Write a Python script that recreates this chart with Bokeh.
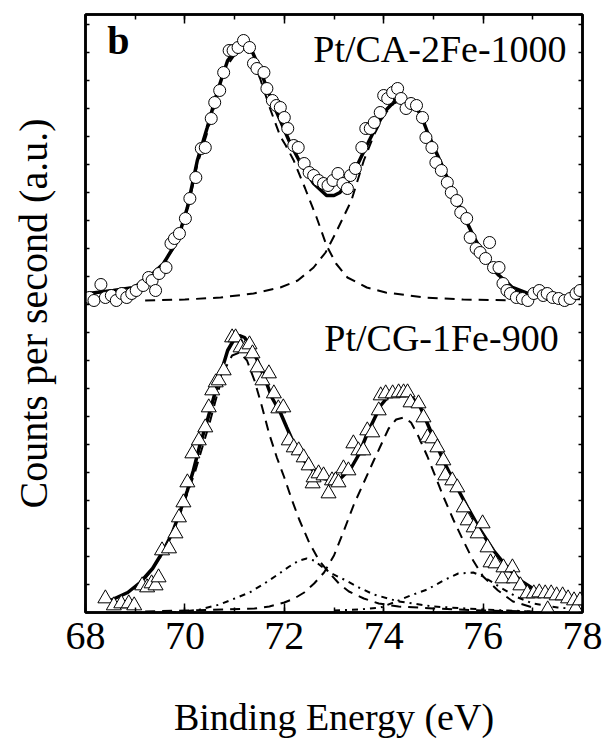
from bokeh.plotting import figure
from bokeh.models import Range1d, LinearAxis, SingleIntervalTicker, Label, CustomLabelingPolicy
from bokeh.embed import file_html
from bokeh.resources import INLINE

# ---------------- data (binding energy in eV, counts in arbitrary units) ----------------
# Top panel: Pt/CA-2Fe-1000 (circles)
ev_a = [68.08, 68.17, 68.31, 68.40, 68.52, 68.62, 68.73, 68.83, 68.93, 69.02, 69.16, 69.27, 69.34, 69.41,
        69.48, 69.62, 69.72, 69.79, 69.89, 70.01, 70.10, 70.22, 70.33, 70.41, 70.53, 70.60, 70.70, 70.78,
        70.89, 70.97, 71.07, 71.18, 71.30, 71.38, 71.45, 71.59, 71.65, 71.76, 71.84, 71.92, 72.00, 72.07,
        72.19, 72.28, 72.40, 72.50, 72.59, 72.69, 72.79, 72.88, 72.98, 73.08, 73.18, 73.27, 73.33, 73.43,
        73.56, 73.64, 73.73, 73.81, 73.93, 74.00, 74.08, 74.18, 74.28, 74.35, 74.45, 74.55, 74.66, 74.78,
        74.85, 74.97, 75.05, 75.16, 75.28, 75.36, 75.47, 75.55, 75.67, 75.74, 75.86, 75.94, 76.05, 76.13,
        76.21, 76.32, 76.40, 76.48, 76.55, 76.67, 76.79, 76.90, 77.02, 77.13, 77.21, 77.29, 77.40, 77.52,
        77.64, 77.75, 77.87, 77.95]
cnt_a = [3, 0, 16, 3, 5, 0, 7, 3, 7, 10, 15, 23, 20, 10,
         27, 33, 57, 62, 67, 82, 102, 123, 152, 153, 182, 198, 210, 228,
         250, 250, 253, 260, 253, 237, 232, 228, 212, 200, 195, 193, 183, 172,
         155, 153, 137, 128, 125, 120, 117, 115, 120, 127, 117, 112, 125, 132,
         153, 172, 172, 178, 188, 205, 202, 208, 212, 202, 192, 197, 195, 183,
         163, 153, 138, 130, 118, 108, 100, 88, 82, 63, 52, 48, 42, 58,
         33, 33, 17, 10, 7, 3, 2, 0, 7, 10, 5, 7, 3, 2,
         0, 2, 7, 10]
# total fit
ev_a_fit = [68.05, 68.56, 68.97, 69.25, 69.57, 69.85, 70.05, 70.25, 70.45, 70.66, 70.86, 71.06, 71.18, 71.32,
            71.52, 71.72, 71.92, 72.12, 72.33, 72.59, 72.85, 73.0, 73.12, 73.35, 73.58, 73.81, 74.04, 74.27,
            74.5, 74.74, 74.89, 75.13, 75.36, 75.59, 75.82, 76.05, 76.28, 76.59, 76.9, 77.29, 77.95]
cnt_a_fit = [7, 10, 13, 22, 37, 60, 93, 140, 173, 210, 240, 253, 257, 253,
             230, 203, 180, 157, 137, 117, 105, 105, 108, 123, 147, 170, 190, 202,
             200, 187, 167, 140, 113, 87, 63, 43, 27, 13, 7, 3, 2]
# components (dashed)
ev_a_c1 = [69.2, 69.55, 69.85, 70.05, 70.25, 70.45, 70.65, 70.85, 71.05, 71.18, 71.32, 71.52, 71.72, 71.92,
           72.03, 72.19, 72.42, 72.65, 72.85, 73.04, 73.27, 73.66, 74.04, 74.82, 75.6, 76.8]
cnt_a_c1 = [21, 36, 58, 90, 136, 168, 205, 235, 249, 252, 246, 221, 191, 164,
            155, 140, 112, 83, 55, 37, 23, 13, 8, 3, 1, 0]
ev_a_c2 = [69.2, 70.0, 70.72, 71.38, 71.92, 72.27, 72.59, 72.83, 73.04, 73.35, 73.6, 73.8, 74.0, 74.2,
           74.35, 74.5, 74.75, 74.9, 75.15, 75.4, 75.6, 75.85, 76.05, 76.3, 76.5, 76.8]
cnt_a_c2 = [0, 1, 3, 7, 13, 20, 33, 48, 68, 100, 140, 165, 185, 197,
            200, 197, 183, 165, 137, 110, 85, 60, 42, 25, 13, 5]

# Bottom panel: Pt/CG-1Fe-900 (triangles)
ev_b = [68.40, 68.57, 68.72, 68.87, 68.98, 69.14, 69.24, 69.33, 69.41, 69.47, 69.54, 69.68, 69.81, 69.88,
        69.97, 70.05, 70.15, 70.28, 70.41, 70.48, 70.55, 70.62, 70.68, 70.78, 70.95, 71.02, 71.12, 71.22,
        71.30, 71.36, 71.46, 71.56, 71.69, 71.79, 71.88, 71.98, 72.09, 72.19, 72.29, 72.39, 72.49, 72.57,
        72.59, 72.69, 72.79, 72.89, 72.96, 73.03, 73.09, 73.19, 73.29, 73.39, 73.49, 73.59, 73.67, 73.77,
        73.90, 73.94, 74.04, 74.18, 74.30, 74.40, 74.48, 74.54, 74.70, 74.80, 74.88, 74.98, 75.08, 75.20,
        75.24, 75.38, 75.48, 75.61, 75.69, 75.81, 75.89, 75.99, 76.09, 76.15, 76.25, 76.39, 76.41, 76.59,
        76.62, 76.75, 76.89, 77.02, 77.13, 77.25, 77.30, 77.37, 77.48, 77.60, 77.71, 77.83, 77.86, 77.95]
cnt_b = [14, 7, 9, 9, 7, 27, 25, 29, 27, 35, 62, 64, 79, 95,
         110, 130, 159, 172, 185, 205, 222, 230, 232, 242, 275, 275, 265, 264,
         268, 259, 245, 232, 239, 219, 204, 205, 172, 165, 162, 155, 147, 129,
         135, 139, 137, 119, 132, 132, 130, 144, 142, 169, 162, 162, 182, 180,
         202, 217, 219, 219, 220, 220, 220, 210, 209, 195, 175, 174, 165, 152,
         137, 132, 125, 105, 92, 85, 79, 89, 65, 50, 49, 34, 45, 45,
         34, 27, 19, 19, 20, 19, 3, 19, 17, 17, 14, 12, 4, 12]
ev_b_fit = [68.5, 68.85, 69.1, 69.35, 69.57, 69.75, 69.91, 70.05, 70.17, 70.3, 70.45, 70.66, 70.86, 71.0,
            71.1, 71.2, 71.3, 71.45, 71.6, 71.75, 71.92, 72.05, 72.2, 72.4, 72.6, 72.8, 73.0, 73.15,
            73.35, 73.5, 73.67, 73.94, 74.14, 74.34, 74.54, 74.74, 74.94, 75.2, 75.4, 75.69, 75.95, 76.21,
            76.49, 76.75, 77.0, 77.4, 77.95]
cnt_b_fit = [12, 20, 30, 44, 62, 80, 102, 122, 142, 167, 192, 229, 262, 274,
             277, 275, 268, 253, 235, 215, 200, 185, 168, 152, 141, 134, 132, 135,
             145, 158, 179, 207, 219, 221, 217, 205, 182, 152, 132, 105, 82, 62,
             45, 32, 24, 17, 14]
ev_b_c1 = [69.2, 69.5, 69.75, 69.9, 70.05, 70.2, 70.35, 70.5, 70.65, 70.8, 70.95, 71.1, 71.25, 71.4,
           71.55, 71.7, 71.85, 72.0, 72.15, 72.3, 72.5, 72.7, 72.9, 73.1, 73.3, 73.6, 73.9, 74.3,
           75.0, 76.0, 77.0]
cnt_b_c1 = [34, 55, 78, 98, 119, 140, 165, 190, 218, 243, 257, 260, 252, 232,
            206, 178, 155, 135, 113, 93, 70, 52, 40, 29, 21, 14, 9, 6,
            4, 2, 1]
ev_b_c2 = [69.2, 70.0, 70.8, 71.4, 71.7, 72.0, 72.2, 72.4, 72.6, 72.8, 73.0, 73.2, 73.4, 73.6,
           73.8, 73.95, 74.1, 74.25, 74.4, 74.55, 74.7, 74.88, 75.04, 75.2, 75.4, 75.6, 75.8, 76.0,
           76.3, 76.6, 77.0]
cnt_b_c2 = [1, 2, 3, 4, 6, 10, 14, 20, 29, 40, 57, 82, 108, 130,
            152, 168, 184, 193, 195, 190, 176, 156, 136, 116, 93, 72, 52, 36,
            22, 11, 5]
ev_b_c3 = [69.7, 70.0, 70.3, 70.7, 71.0, 71.3, 71.6, 71.9, 72.1, 72.3, 72.45, 72.6, 72.75, 72.95,
           73.2, 73.5, 73.8, 74.3, 75.0, 76.0, 77.0]
cnt_b_c3 = [0, 1, 3, 8, 14, 20, 29, 39, 46, 52, 54, 52, 46, 39,
            33, 25, 18, 11, 6, 3, 1]
ev_b_c4 = [73.0, 73.5, 73.94, 74.2, 74.54, 74.88, 75.2, 75.5, 75.8, 76.0, 76.35, 76.7, 77.0, 77.5, 78.0]
cnt_b_c4 = [2, 3, 5, 10, 17, 23, 32, 39, 40, 36, 25, 15, 9, 5, 3]

top_offset = 312          # vertical stacking offset of the upper spectrum
x_ticks_major = 2
y_tick_step = 28
label_top = "Pt/CA-2Fe-1000"
label_bottom = "Pt/CG-1Fe-900"
panel_letter = "b"
x_title = "Binding Energy (eV)"
y_title = "Counts per second (a.u.)"

FONT = "Liberation Serif"

def shift(vals, off):
    return [v + off for v in vals]

def no_labels():
    return CustomLabelingPolicy(code="return new Set()")

p = figure(frame_width=497, frame_height=598, output_backend="svg", toolbar_location=None,
           x_range=Range1d(68, 78), y_range=Range1d(0, 598),
           min_border_left=85, min_border_right=20, min_border_top=14, min_border_bottom=100,
           background_fill_color="white", border_fill_color="white")
p.xgrid.visible = False
p.ygrid.visible = False
p.outline_line_color = "black"
p.outline_line_width = 2.5
p.outline_line_alpha = 1.0

xt = SingleIntervalTicker(interval=x_ticks_major, num_minor_ticks=2)
yt = SingleIntervalTicker(interval=y_tick_step, num_minor_ticks=0)

xa = p.xaxis[0]
xa.ticker = xt
xa.major_tick_in = 9
xa.major_tick_out = 0
xa.minor_tick_in = 5
xa.minor_tick_out = 0
xa.major_tick_line_width = 1.5
xa.minor_tick_line_width = 1.5
xa.axis_line_width = 2.5
xa.major_label_text_font = FONT
xa.major_label_text_font_size = "40px"
xa.major_label_text_color = "black"
xa.major_label_standoff = 10
xa.axis_label = x_title
xa.axis_label_text_font = FONT
xa.axis_label_text_font_size = "38px"
xa.axis_label_text_font_style = "normal"
xa.axis_label_text_color = "black"
xa.axis_label_standoff = 44

ya = p.yaxis[0]
ya.ticker = yt
ya.major_tick_in = 4
ya.major_tick_out = 0
ya.minor_tick_in = 0
ya.minor_tick_out = 0
ya.major_tick_line_width = 1.5
ya.axis_line_width = 2.5
ya.major_label_policy = no_labels()
ya.major_label_text_font_size = "1px"
ya.major_label_standoff = 0
ya.axis_label = y_title
ya.axis_label_text_font = FONT
ya.axis_label_text_font_size = "40px"
ya.axis_label_text_font_style = "normal"
ya.axis_label_text_color = "black"
ya.axis_label_standoff = 25

top_axis = LinearAxis(ticker=SingleIntervalTicker(interval=x_ticks_major, num_minor_ticks=2),
                      major_tick_in=9, major_tick_out=0, minor_tick_in=5, minor_tick_out=0,
                      major_tick_line_width=1.5, minor_tick_line_width=1.5, axis_line_width=2.5,
                      major_label_policy=no_labels(), major_label_text_font_size="1px",
                      major_label_standoff=0)
p.add_layout(top_axis, "above")
right_axis = LinearAxis(ticker=SingleIntervalTicker(interval=y_tick_step, num_minor_ticks=0),
                        major_tick_in=4, major_tick_out=0, minor_tick_in=0, minor_tick_out=0,
                        major_tick_line_width=1.5, axis_line_width=2.5,
                        major_label_policy=no_labels(), major_label_text_font_size="1px",
                        major_label_standoff=0)
p.add_layout(right_axis, "right")

DASH = "10 7"
DOTDASH = "6 5 2 5"

# top panel
p.line(ev_a_c1, shift(cnt_a_c1, top_offset), line_color="black", line_width=2, line_dash=DASH)
p.line(ev_a_c2, shift(cnt_a_c2, top_offset), line_color="black", line_width=2, line_dash=DASH)
p.line(ev_a_fit, shift(cnt_a_fit, top_offset), line_color="black", line_width=3.5)
p.scatter(ev_a, shift(cnt_a, top_offset), marker="circle", size=12, fill_color="white",
          line_color="black", line_width=1)

# bottom panel
p.line(ev_b_c1, cnt_b_c1, line_color="black", line_width=2, line_dash=DASH)
p.line(ev_b_c2, cnt_b_c2, line_color="black", line_width=2, line_dash=DASH)
p.line(ev_b_c3, cnt_b_c3, line_color="black", line_width=2, line_dash=DOTDASH)
p.line(ev_b_c4, cnt_b_c4, line_color="black", line_width=2, line_dash=DOTDASH)
p.line(ev_b_fit, cnt_b_fit, line_color="black", line_width=3.5)
p.scatter(ev_b, cnt_b, marker="triangle", size=15, fill_color="white",
          line_color="black", line_width=1)

p.add_layout(Label(x=68.44, y=550, text=panel_letter, text_font=FONT, text_font_size="40px",
                   text_font_style="bold", text_color="black"))
p.add_layout(Label(x=77.68, y=543, text=label_top, text_font=FONT, text_font_size="38px",
                   text_align="right", text_color="black"))
p.add_layout(Label(x=77.52, y=254, text=label_bottom, text_font=FONT, text_font_size="38px",
                   text_align="right", text_color="black"))

open("out.html", "w").write(file_html(p, INLINE))
